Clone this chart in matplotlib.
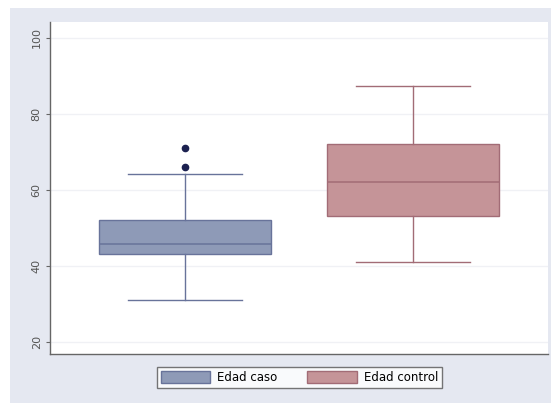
import matplotlib
matplotlib.use("Agg")
import matplotlib.pyplot as plt
from matplotlib.patches import Patch, Rectangle

# summary values for each group (age)
groups = ["Edad caso", "Edad control"]
medians = [45.8, 62.2]
q1 = [43.2, 53.2]
q3 = [52.1, 72.1]
whislo = [31.0, 41.1]
whishi = [64.1, 87.4]
outliers = [[66.0, 71.1], []]

yticks = [20, 40, 60, 80, 100]

fills = ["#8e9ab7", "#c59498"]
edges = ["#68739a", "#a26c76"]
bg = "#e5e8f1"

fig = plt.figure(figsize=(5.51, 4.03), dpi=100)
fig.patch.set_facecolor("white")
fig.patches.append(Rectangle((10 / 551, 0), 1, (403 - 8) / 403,
                             transform=fig.transFigure, facecolor=bg,
                             edgecolor="none", zorder=-10))

ax = fig.add_axes([0.0907, 0.1216, 0.9039, 0.8238])
ax.set_facecolor("white")

stats = []
for i, name in enumerate(groups):
    stats.append(dict(label=name, med=medians[i], q1=q1[i], q3=q3[i],
                      whislo=whislo[i], whishi=whishi[i], fliers=outliers[i]))

positions = [1, 2]
for i, st in enumerate(stats):
    ax.bxp([st], positions=[positions[i]], widths=0.754, patch_artist=True,
           showfliers=True,
           boxprops=dict(facecolor=fills[i], edgecolor=edges[i], linewidth=1.0),
           medianprops=dict(color=edges[i], linewidth=1.1),
           whiskerprops=dict(color=edges[i], linewidth=1.0),
           capprops=dict(color=edges[i], linewidth=1.0),
           capwidths=0.5,
           flierprops=dict(marker="o", markersize=4.5, markerfacecolor="#1c2150",
                           markeredgecolor="#1c2150"))

ax.set_xlim(0.408, 2.592)
ax.set_ylim(16.8, 104.2)
ax.set_yticks(yticks)
ax.set_yticklabels([str(t) for t in yticks], rotation=90, va="center",
                   fontsize=8, color="#555555")
ax.set_xticks([])
ax.yaxis.grid(True, color="#f0f1f5", linewidth=1)
ax.set_axisbelow(True)
ax.tick_params(axis="y", length=3, width=0.8, color="#666666", pad=3)

for side in ["top", "right"]:
    ax.spines[side].set_visible(False)
for side in ["left", "bottom"]:
    ax.spines[side].set_color("#666666")
    ax.spines[side].set_linewidth(1)

handles = [Patch(facecolor=fills[i], edgecolor=edges[i], label=groups[i])
           for i in range(2)]
leg = fig.legend(handles=handles, loc="center", bbox_to_anchor=(0.5436, 0.063),
                 ncol=2, frameon=True, fancybox=False, fontsize=8.5,
                 handlelength=4.2, handleheight=1.2, columnspacing=2.5,
                 handletextpad=0.6, borderpad=0.35)
leg.get_frame().set_edgecolor("#555555")
leg.get_frame().set_linewidth(1)

fig.savefig("out.png", dpi=100, facecolor=fig.get_facecolor())
